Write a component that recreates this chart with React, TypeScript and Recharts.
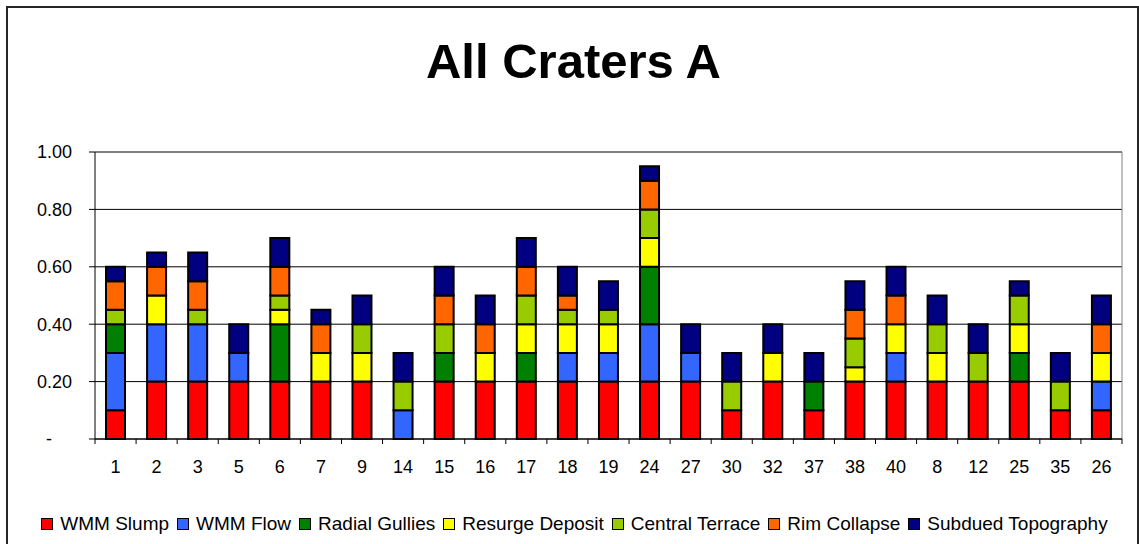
import React from "react";
import { Bar, BarChart, CartesianGrid, Legend, XAxis, YAxis } from "recharts";

// Stacked feature proportions per crater
const craters = ["1", "2", "3", "5", "6", "7", "9", "14", "15", "16", "17", "18", "19", "24", "27", "30", "32", "37", "38", "40", "8", "12", "25", "35", "26"];
const wmmSlump = [0.1, 0.2, 0.2, 0.2, 0.2, 0.2, 0.2, 0, 0.2, 0.2, 0.2, 0.2, 0.2, 0.2, 0.2, 0.1, 0.2, 0.1, 0.2, 0.2, 0.2, 0.2, 0.2, 0.1, 0.1];
const wmmFlow = [0.2, 0.2, 0.2, 0.1, 0, 0, 0, 0.1, 0, 0, 0, 0.1, 0.1, 0.2, 0.1, 0, 0, 0, 0, 0.1, 0, 0, 0, 0, 0.1];
const radialGullies = [0.1, 0, 0, 0, 0.2, 0, 0, 0, 0.1, 0, 0.1, 0, 0, 0.2, 0, 0, 0, 0.1, 0, 0, 0, 0, 0.1, 0, 0];
const resurgeDeposit = [0, 0.1, 0, 0, 0.05, 0.1, 0.1, 0, 0, 0.1, 0.1, 0.1, 0.1, 0.1, 0, 0, 0.1, 0, 0.05, 0.1, 0.1, 0, 0.1, 0, 0.1];
const centralTerrace = [0.05, 0, 0.05, 0, 0.05, 0, 0.1, 0.1, 0.1, 0, 0.1, 0.05, 0.05, 0.1, 0, 0.1, 0, 0, 0.1, 0, 0.1, 0.1, 0.1, 0.1, 0];
const rimCollapse = [0.1, 0.1, 0.1, 0, 0.1, 0.1, 0, 0, 0.1, 0.1, 0.1, 0.05, 0, 0.1, 0, 0, 0, 0, 0.1, 0.1, 0, 0, 0, 0, 0.1];
const subduedTopography = [0.05, 0.05, 0.1, 0.1, 0.1, 0.05, 0.1, 0.1, 0.1, 0.1, 0.1, 0.1, 0.1, 0.05, 0.1, 0.1, 0.1, 0.1, 0.1, 0.1, 0.1, 0.1, 0.05, 0.1, 0.1];
const yTicks = [0, 0.2, 0.4, 0.6, 0.8, 1];

const series = [
  { key: "slump", name: "WMM Slump", color: "#FF0000", values: wmmSlump },
  { key: "flow", name: "WMM Flow", color: "#3366FF", values: wmmFlow },
  { key: "gullies", name: "Radial Gullies", color: "#008000", values: radialGullies },
  { key: "resurge", name: "Resurge Deposit", color: "#FFFF00", values: resurgeDeposit },
  { key: "terrace", name: "Central Terrace", color: "#99CC00", values: centralTerrace },
  { key: "rim", name: "Rim Collapse", color: "#FF6600", values: rimCollapse },
  { key: "subdued", name: "Subdued Topography", color: "#000080", values: subduedTopography },
];

const data = craters.map((crater, i) => {
  const row: Record<string, string | number> = { crater };
  series.forEach((s) => (row[s.key] = s.values[i]));
  return row;
});

const W = 1139;
const H = 544;
const FONT = "'Liberation Sans', Arial, sans-serif";
const margin = { top: 152, right: 17, left: 0, bottom: 51 };
const yAxisWidth = 95;
const band = (W - margin.left - margin.right - yAxisWidth) / craters.length;

// Excel-style category tick: label centred, tick marks on the category boundaries
function CraterTick(props: any) {
  const { x, y, payload, index } = props;
  return (
    <g>
      <line x1={x - band / 2} x2={x - band / 2} y1={y} y2={y + 5} stroke="#000" />
      {index === craters.length - 1 && <line x1={x + band / 2} x2={x + band / 2} y1={y} y2={y + 5} stroke="#000" />}
      <text x={x} y={y + 34} textAnchor="middle" fontSize={18} fill="#000" fontFamily={FONT}>
        {payload.value}
      </text>
    </g>
  );
}

function LegendBox() {
  return (
    <div style={{ display: "flex", justifyContent: "center", alignItems: "center", gap: 8, paddingLeft: 10, height: 24, fontSize: 19, fontFamily: FONT, color: "#000" }}>
      {series.map((s) => (
        <div key={s.key} style={{ display: "flex", alignItems: "center" }}>
          <span style={{ width: 12, height: 12, boxSizing: "border-box", border: "1.5px solid #000", background: s.color, marginRight: 7 }} />
          <span style={{ whiteSpace: "nowrap" }}>{s.name}</span>
        </div>
      ))}
    </div>
  );
}

export default function App() {
  return (
    <div style={{ position: "fixed", left: 0, top: 0, width: W, height: H, background: "#fff", overflow: "hidden", fontFamily: FONT }}>
      <div style={{ position: "absolute", left: 6, top: 6, width: W - 10, height: H + 20, border: "2px solid #262626" }} />
      <div style={{ position: "absolute", left: 4, top: 37, width: W, textAlign: "center", fontSize: 49, lineHeight: "49px", fontWeight: "bold", color: "#000" }}>
        All Craters A
      </div>
      <div style={{ position: "absolute", left: 0, top: 0 }}>
        <BarChart width={W} height={H} data={data} margin={margin}>
          <CartesianGrid vertical={false} stroke="#000" />
          <CartesianGrid
            stroke="#808080"
            horizontalCoordinatesGenerator={({ offset }: any) => [offset.top]}
            verticalCoordinatesGenerator={({ offset }: any) => [offset.left + offset.width]}
          />
          <XAxis
            dataKey="crater"
            height={30}
            tickSize={0}
            tickMargin={0}
            tickLine={false}
            interval={0}
            axisLine={{ stroke: "#000" }}
            tick={<CraterTick />}
          />
          <YAxis
            width={yAxisWidth}
            domain={[0, 1]}
            ticks={yTicks}
            interval={0}
            tickSize={6}
            tickMargin={17}
            axisLine={{ stroke: "#000" }}
            tickLine={{ stroke: "#000" }}
            tick={{ fill: "#000", fontSize: 18, fontFamily: FONT }}
            tickFormatter={(v: number) => (v === 0 ? "-\u2007\u2007" : v.toFixed(2))}
          />
          <Legend content={<LegendBox />} wrapperStyle={{ top: 512, bottom: "auto", left: 0, width: W }} />
          {series.map((s) => (
            <Bar
              key={s.key}
              dataKey={s.key}
              name={s.name}
              stackId="a"
              fill={s.color}
              stroke="#000"
              strokeWidth={2}
              barSize={19}
              isAnimationActive={false}
            />
          ))}
        </BarChart>
      </div>
    </div>
  );
}
